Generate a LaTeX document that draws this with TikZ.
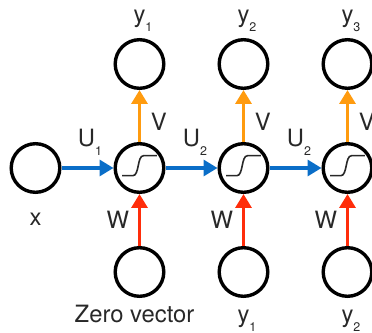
\documentclass[tikz,border=0pt]{standalone}
\usepackage{fontspec}
\setmainfont{TeX Gyre Heros}
\usetikzlibrary{calc,positioning,arrows.meta}
\definecolor{ublue}{RGB}{10,110,200}
\definecolor{vorange}{RGB}{255,155,15}
\definecolor{wred}{RGB}{255,45,10}
\definecolor{ink}{RGB}{40,40,40}
\newcommand{\lowsub}[1]{\rlap{\raisebox{-9pt}{\fontsize{12.5}{12.5}\selectfont #1}}}
\tikzset{
node distance=104pt, % spacing of the grid of units
unit/.style={circle, draw, line width=3.4pt, minimum size=48.6pt, inner sep=0pt}, % every neuron
lbl/.style={text=ink, font=\fontsize{23.8}{28}\selectfont}, % every text
sigmoid/.style={line width=1.6pt, draw=ink},
}
\tikzset{
    wire/.style={line width=3.3pt, -{Triangle[length=14pt,width=16pt]}}
}

\begin{document}
\begin{tikzpicture}[on grid,auto]
   \useasboundingbox (0,0) rectangle (372pt,332pt);
   \node[unit] (x_0) at (35.5pt,164pt) {};
   \node[unit] (h_1) [right=of x_0] {};
   \node[unit] (h_2) [right=of h_1] {};
   \node[unit] (h_3) [right=of h_2] {};
   \node[unit] (o_1) [above=of h_1] {};
   \node[unit] (o_2) [above=of h_2] {};
   \node[unit] (o_3) [above=of h_3] {};
   \node[unit] (i_1) [below=of h_1] {};
   \node[unit] (i_2) [below=of h_2] {};
   \node[unit] (i_3) [below=of h_3] {};
   % texts
   \node[lbl] (l_x) [below=58pt of x_0, anchor=base] {x};
   \node[lbl] (l_o1) [above=41.8pt of o_1, anchor=base] {y\lowsub{1}};
   \node[lbl] (l_o2) [above=41.8pt of o_2, anchor=base] {y\lowsub{2}};
   \node[lbl] (l_o3) [above=41.8pt of o_3, anchor=base] {y\lowsub{3}};
   \node[lbl] (l_i1) [below=50.5pt of i_1, anchor=base, xshift=-5pt] {Zero vector};
   \node[lbl] (l_i2) [below=50.5pt of i_2, anchor=base] {y\lowsub{1}};
   \node[lbl] (l_i3) [below=50.5pt of i_3, anchor=base] {y\lowsub{2}};
   % sigmoid inside the hidden units
   \foreach \n in {h_1,h_2,h_3}
      \draw[sigmoid, shift={(\n.center)}] (-17.3pt,-7.7pt) -- (-6.7pt,-7.7pt)
         .. controls (0pt,-7.7pt) and (-2.5pt,12.3pt) .. (4pt,12.3pt) -- (17.3pt,12.3pt);
    \path[wire, color=ublue]
    (x_0) edge node[lbl, above=8pt, pos=0.48] {U\lowsub{1}} (h_1)
    (h_1) edge node[lbl, above=8pt] {U\lowsub{2}} (h_2)
    (h_2) edge node[lbl, above=8pt] {U\lowsub{2}} (h_3);
    \path[wire, color=vorange]
    (h_1) edge node[lbl, right=6.5pt, pos=0.38] {V} (o_1)
    (h_2) edge node[lbl, right=6.5pt, pos=0.38] {V} (o_2)
    (h_3) edge node[lbl, right=6.5pt, pos=0.38] {V} (o_3);
    \path[wire, color=wred]
    (i_1) edge node[lbl, left=5.5pt] {W} (h_1)
    (i_2) edge node[lbl, left=5.5pt] {W} (h_2)
    (i_3) edge node[lbl, left=5.5pt] {W} (h_3);
\end{tikzpicture}
\end{document}
